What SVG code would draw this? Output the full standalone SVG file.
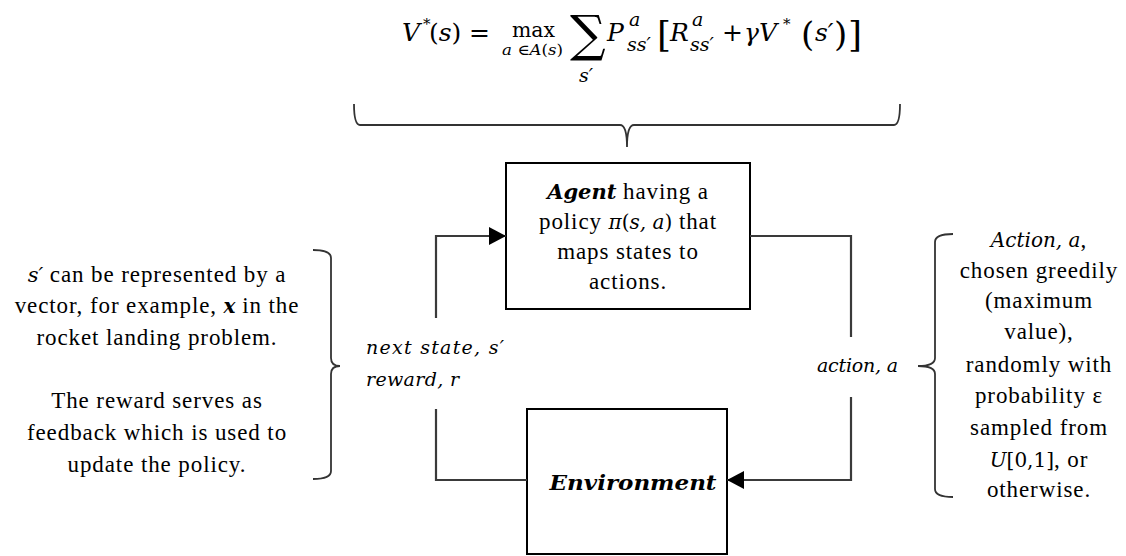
<svg xmlns="http://www.w3.org/2000/svg" width="1126" height="556" viewBox="0 0 1126 556">
  <defs>
    <style>
      text { font-family: "Liberation Serif", "Times New Roman", "DejaVu Serif", serif; }
      .txt { font-size: 23px; letter-spacing: 0.9px; fill: #000; text-anchor: middle; }
      .math { font-family: "DejaVu Serif", serif; font-style: italic; letter-spacing: 0; fill: #000; }
      .up { font-family: "DejaVu Serif", serif; font-style: normal; letter-spacing: 0; fill: #000; }
      .bi { font-family: "DejaVu Serif", serif; font-style: italic; font-weight: bold; letter-spacing: 0; }
      .box { fill: #fff; stroke: #000; stroke-width: 2; }
      .wire { fill: none; stroke: #3a3a3a; stroke-width: 2.2; }
      .brace { fill: none; stroke: #333; stroke-width: 1.8; }
    </style>
    <marker id="head" markerWidth="18" markerHeight="18" refX="17" refY="9" orient="auto" markerUnits="userSpaceOnUse">
      <path d="M0,0 L17,9 L0,18 Z" fill="#000"/>
    </marker>
  </defs>

  <rect width="1126" height="556" fill="#fff"/>

  <!-- Bellman optimality equation -->
  <g id="equation">
    <text class="math" x="402" y="41" font-size="25">V</text>
    <text class="up" x="423" y="29" font-size="15">*</text>
    <text class="up" x="429" y="41" font-size="25">(<tspan class="math">s</tspan>)</text>
    <text class="up" x="469" y="41" font-size="25">=</text>
    <text class="up" x="512" y="37" font-size="20" textLength="43" lengthAdjust="spacingAndGlyphs">max</text>
    <text class="math" x="502" y="55" font-size="15" textLength="61" lengthAdjust="spacingAndGlyphs">a <tspan class="up">∈</tspan>A<tspan class="up">(</tspan>s<tspan class="up">)</tspan></text>
    <text class="up" x="570" y="51" font-size="50">∑</text>
    <text class="math" x="579" y="82" font-size="19">s′</text>
    <text class="math" x="607" y="41" font-size="25">P</text>
    <text class="math" x="629" y="26" font-size="19">a</text>
    <text class="math" x="627" y="51" font-size="19">ss′</text>
    <text class="up" x="657" y="47" font-size="36">[</text>
    <text class="math" x="670" y="41" font-size="25">R</text>
    <text class="math" x="692" y="26" font-size="19">a</text>
    <text class="math" x="690" y="51" font-size="19">ss′</text>
    <text class="up" x="722" y="41" font-size="25">+</text>
    <text class="math" x="744" y="41" font-size="25">γV</text>
    <text class="up" x="783" y="29" font-size="15">*</text>
    <text class="up" x="801" y="46" font-size="34">(</text>
    <text class="math" x="815" y="41" font-size="25">s′</text>
    <text class="up" x="834" y="46" font-size="34">)</text>
    <text class="up" x="848" y="47" font-size="36">]</text>
  </g>

  <!-- brace under the equation -->
  <path class="brace" d="M354,104 Q354,125 360,125 L620,125 Q627,125 627,147 Q627,125 634,125 L894,125 Q900,125 900,104"/>

  <!-- Agent -->
  <g id="agent">
    <rect class="box" x="506" y="163" width="244" height="146"/>
    <text class="txt" x="628" y="199"><tspan class="bi" font-size="21">Agent</tspan> having a</text>
    <text class="txt" x="628" y="229">policy <tspan class="math" font-size="20">π</tspan><tspan class="up" font-size="20">(</tspan><tspan class="math" font-size="20">s, a</tspan><tspan class="up" font-size="20">)</tspan> that</text>
    <text class="txt" x="628" y="259">maps states to</text>
    <text class="txt" x="628" y="289">actions.</text>
  </g>

  <!-- Environment -->
  <g id="environment">
    <rect class="box" x="527" y="409" width="200" height="145"/>
    <text class="bi" x="633" y="490" font-size="21" text-anchor="middle" textLength="167" lengthAdjust="spacingAndGlyphs">Environment</text>
  </g>

  <!-- connectors -->
  <g id="connectors">
    <polyline class="wire" points="527,480 436,480 436,409"/>
    <polyline class="wire" points="436,318 436,236 506,236" marker-end="url(#head)"/>
    <polyline class="wire" points="750,236 851,236 851,337"/>
    <polyline class="wire" points="851,397 851,480 727,480" marker-end="url(#head)"/>
  </g>

  <!-- connector labels -->
  <g id="labels">
    <text class="math" x="366" y="354" font-size="19" textLength="138" lengthAdjust="spacing">next state, s′</text>
    <text class="math" x="366" y="386" font-size="19" textLength="93" lengthAdjust="spacing">reward, r</text>
    <text class="math" x="817" y="372" font-size="19" textLength="81" lengthAdjust="spacing">action, a</text>
  </g>

  <!-- left note -->
  <g id="state-note">
    <path class="brace" d="M313,250 Q331,250 331,258 L331,358 Q331,366 340,366 Q331,366 331,374 L331,471 Q331,479 313,479"/>
    <text class="txt" x="157" y="282"><tspan class="math" font-size="21">s′</tspan> can be represented by a</text>
    <text class="txt" x="157" y="313">vector, for example, <tspan class="bi" font-size="20">x</tspan> in the</text>
    <text class="txt" x="157" y="345">rocket landing problem.</text>
    <text class="txt" x="157" y="408">The reward serves as</text>
    <text class="txt" x="157" y="440">feedback which is used to</text>
    <text class="txt" x="157" y="472">update the policy.</text>
  </g>

  <!-- right note -->
  <g id="action-note">
    <path class="brace" d="M953,234 Q935,234 935,242 L935,358 Q935,366 918,366 Q935,366 935,374 L935,489 Q935,497 953,497"/>
    <text class="txt" x="1039" y="247"><tspan class="math" font-size="20">Action, a</tspan>,</text>
    <text class="txt" x="1039" y="278">chosen greedily</text>
    <text class="txt" x="1039" y="308">(maximum</text>
    <text class="txt" x="1039" y="339">value),</text>
    <text class="txt" x="1039" y="372">randomly with</text>
    <text class="txt" x="1039" y="403">probability ε</text>
    <text class="txt" x="1039" y="435">sampled from</text>
    <text class="txt" x="1039" y="467"><tspan class="math" font-size="20">U</tspan><tspan class="up" font-size="20">[0,1]</tspan>, or</text>
    <text class="txt" x="1039" y="497">otherwise.</text>
  </g>
</svg>
